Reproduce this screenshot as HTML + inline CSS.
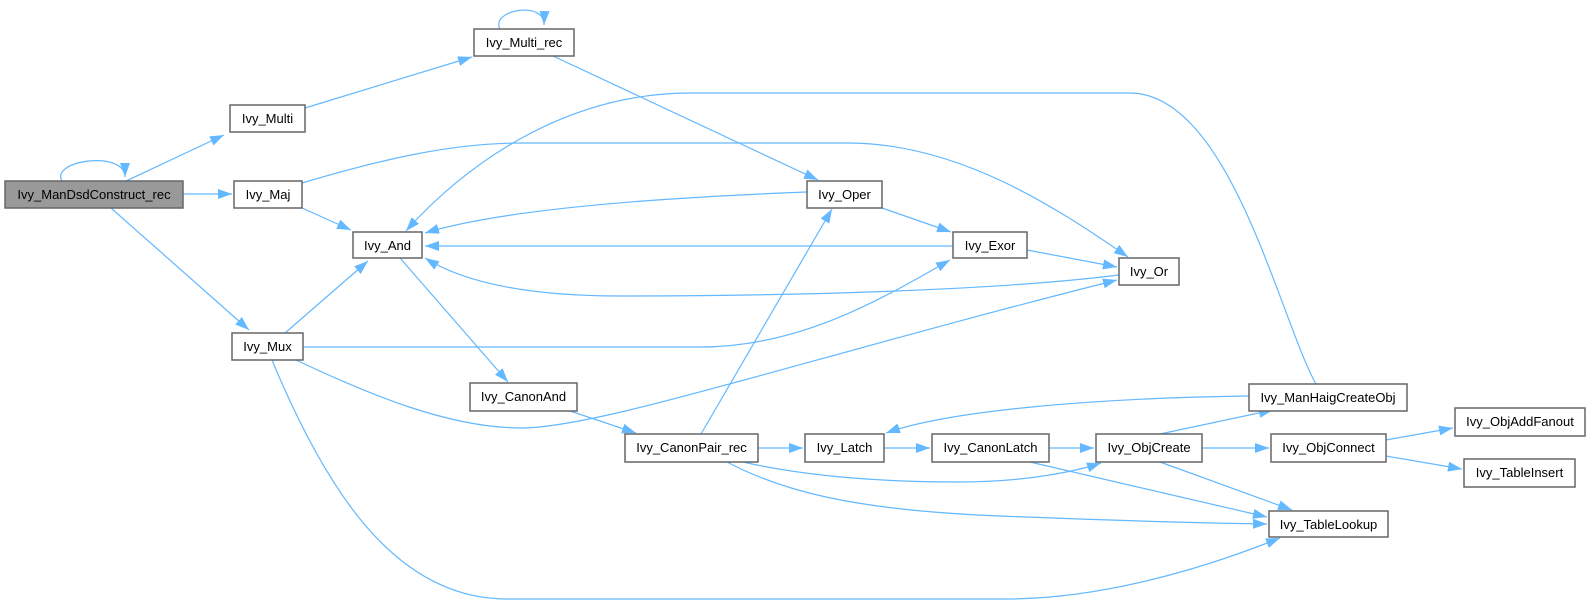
<!DOCTYPE html>
<html><head><meta charset="utf-8"><style>
html,body{margin:0;padding:0;background:#fff;}
svg{display:block;}
text{font-family:"Liberation Sans",Arial,sans-serif;font-size:13px;fill:#000;}
.n{fill:#fff;stroke:#666;stroke-width:1.5;}
.e{fill:none;stroke:#63b8ff;stroke-width:1.2;}
</style></head><body>
<svg width="1590" height="605" viewBox="0 0 1590 605" xmlns="http://www.w3.org/2000/svg">
<defs>
<marker id="a" markerUnits="userSpaceOnUse" markerWidth="15" markerHeight="11" refX="14" refY="5" orient="auto">
<path d="M0,0 L14,5 L0,10 z" fill="#63b8ff"/>
</marker>
</defs>
<g marker-end="url(#a)">
<path class="e" d="M62,181 C50,160 125,150 125,177"/>
<path class="e" d="M500,29 C490,10 545,0 544,25"/>
<path class="e" d="M126,181 L224,135"/>
<path class="e" d="M183,194 L232,194"/>
<path class="e" d="M111,208 L249,330"/>
<path class="e" d="M305,108 L472,57"/>
<path class="e" d="M302,208 L351,230"/>
<path class="e" d="M302,183 C380,160 450,143 521,143 L848,143 C960,143 1060,210 1128,257"/>
<path class="e" d="M285,333 L368,261"/>
<path class="e" d="M303,347 L700,347 C800,347 880,300 950,260"/>
<path class="e" d="M296,360 C370,395 450,428 521,428 C600,428 800,360 1117,280"/>
<path class="e" d="M272,360 C330,500 400,599 507,599 L1005,599 C1100,599 1200,570 1280,538"/>
<path class="e" d="M400,258 L508,382"/>
<path class="e" d="M553,56 L818,180"/>
<path class="e" d="M1316,384 C1280,320 1230,93 1130,93 L691,93 C560,93 460,170 406,231"/>
<path class="e" d="M807,192 C650,198 500,210 425,233"/>
<path class="e" d="M882,208 L951,232"/>
<path class="e" d="M953,246 L425,246"/>
<path class="e" d="M1027,250 L1117,267"/>
<path class="e" d="M1119,275 C1000,290 800,296 620,296 C520,296 460,280 425,258"/>
<path class="e" d="M570,411 L636,433"/>
<path class="e" d="M701,434 L832,209"/>
<path class="e" d="M758,448 L803,448"/>
<path class="e" d="M743,462 C800,475 870,482 960,482 C1030,482 1080,470 1101,463"/>
<path class="e" d="M727,462 C780,490 850,510 1000,516 C1100,520 1200,523 1267,524"/>
<path class="e" d="M884,448 L930,448"/>
<path class="e" d="M1049,448 L1094,448"/>
<path class="e" d="M1030,462 L1267,517"/>
<path class="e" d="M1160,462 L1292,510"/>
<path class="e" d="M1160,434 L1273,410"/>
<path class="e" d="M1202,448 L1269,448"/>
<path class="e" d="M1249,396 C1100,398 950,410 886,433"/>
<path class="e" d="M1386,440 L1453,428"/>
<path class="e" d="M1386,456 L1462,469"/>
</g>
<rect x="5" y="181" width="178" height="27" fill="#999" stroke="#666" stroke-width="1.5"/>
<text x="94" y="199" text-anchor="middle">Ivy_ManDsdConstruct_rec</text>
<rect class="n" x="230" y="105" width="75" height="27"/><text x="267.5" y="123" text-anchor="middle">Ivy_Multi</text>
<rect class="n" x="234" y="181" width="68" height="27"/><text x="268" y="199" text-anchor="middle">Ivy_Maj</text>
<rect class="n" x="353" y="232" width="69" height="26"/><text x="387.5" y="250" text-anchor="middle">Ivy_And</text>
<rect class="n" x="232" y="333" width="71" height="27"/><text x="267.5" y="351" text-anchor="middle">Ivy_Mux</text>
<rect class="n" x="474" y="29" width="100" height="27"/><text x="524" y="47" text-anchor="middle">Ivy_Multi_rec</text>
<rect class="n" x="470" y="383" width="107" height="28"/><text x="523.5" y="401" text-anchor="middle">Ivy_CanonAnd</text>
<rect class="n" x="807" y="181" width="75" height="27"/><text x="844.5" y="199" text-anchor="middle">Ivy_Oper</text>
<rect class="n" x="953" y="232" width="74" height="26"/><text x="990" y="250" text-anchor="middle">Ivy_Exor</text>
<rect class="n" x="1119" y="258" width="60" height="27"/><text x="1149" y="276" text-anchor="middle">Ivy_Or</text>
<rect class="n" x="625" y="434" width="133" height="28"/><text x="691.5" y="452" text-anchor="middle">Ivy_CanonPair_rec</text>
<rect class="n" x="805" y="434" width="79" height="28"/><text x="844.5" y="452" text-anchor="middle">Ivy_Latch</text>
<rect class="n" x="932" y="434" width="117" height="28"/><text x="990.5" y="452" text-anchor="middle">Ivy_CanonLatch</text>
<rect class="n" x="1096" y="434" width="106" height="28"/><text x="1149" y="452" text-anchor="middle">Ivy_ObjCreate</text>
<rect class="n" x="1249" y="384" width="158" height="27"/><text x="1328" y="402" text-anchor="middle">Ivy_ManHaigCreateObj</text>
<rect class="n" x="1271" y="434" width="115" height="28"/><text x="1328.5" y="452" text-anchor="middle">Ivy_ObjConnect</text>
<rect class="n" x="1455" y="408" width="130" height="28"/><text x="1520" y="426" text-anchor="middle">Ivy_ObjAddFanout</text>
<rect class="n" x="1464" y="459" width="111" height="28"/><text x="1519.5" y="477" text-anchor="middle">Ivy_TableInsert</text>
<rect class="n" x="1269" y="511" width="119" height="26"/><text x="1328.5" y="529" text-anchor="middle">Ivy_TableLookup</text>
</svg>
</body></html>
